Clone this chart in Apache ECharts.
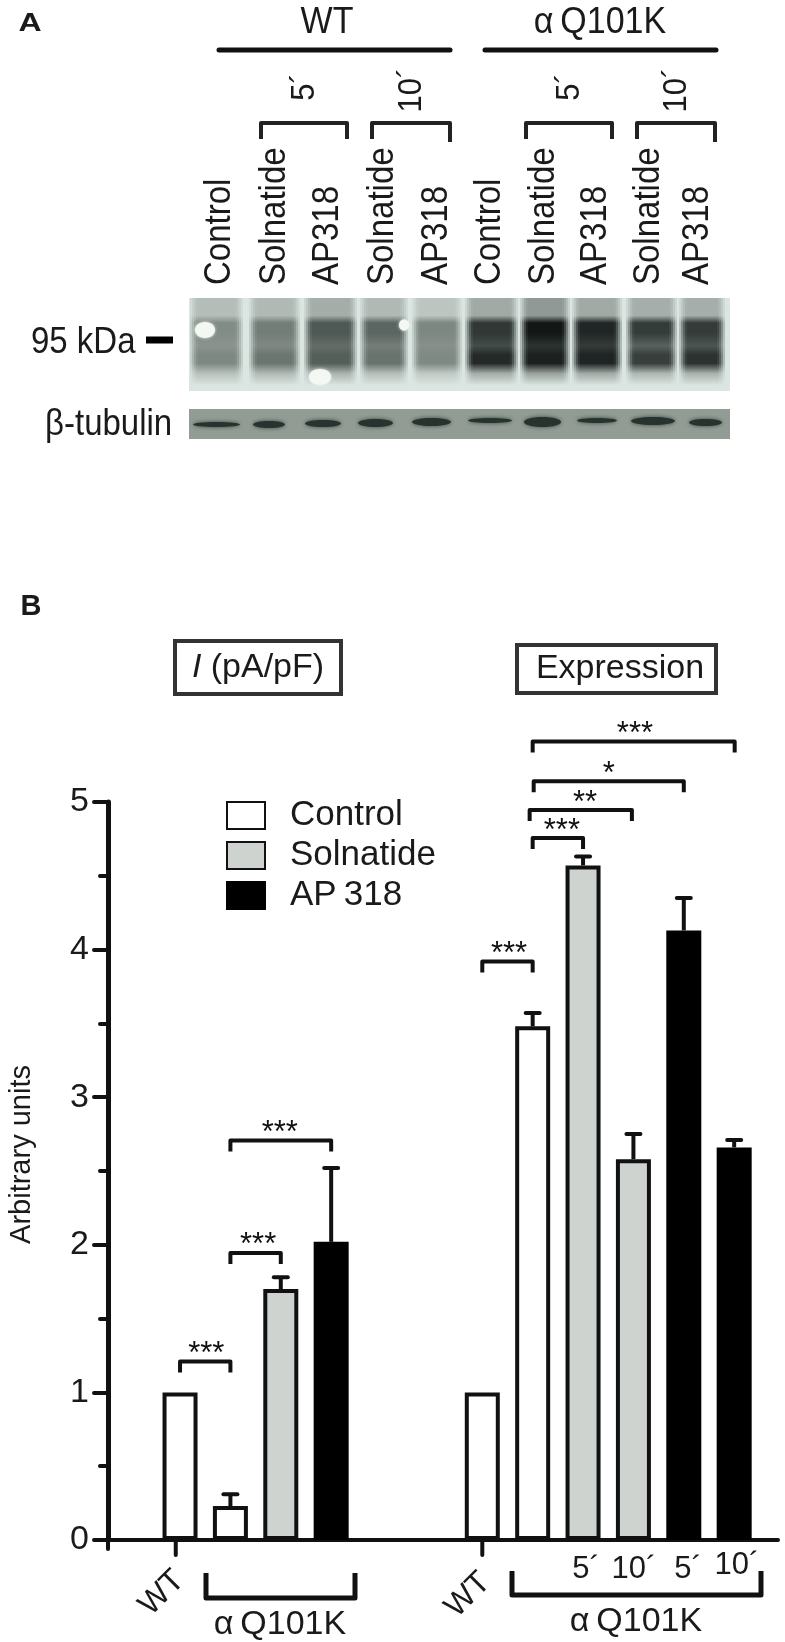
<!DOCTYPE html>
<html><head><meta charset="utf-8">
<style>html,body{margin:0;padding:0;background:#fff}#c{width:785px;height:1642px}</style>
<script src="https://cdn.jsdelivr.net/npm/echarts@6/dist/echarts.min.js"></script>
</head><body><div id="c"></div>
<script>
// ---- data ----
const controlBars   = [[0, 1.0], [1, 0.23], [6, 1.0], [7, 3.48]];
const solnatideBars = [[2, 1.70], [8, 4.57], [9, 2.58]];
const ap318Bars     = [[3, 2.02], [10, 4.13], [11, 2.66]];
// position, bar value, top of error bar
const errorBars = [[1, 0.23, 0.31], [2, 1.70, 1.78], [3, 2.02, 2.52], [7, 3.48, 3.57], [8, 4.57, 4.63], [9, 2.58, 2.75], [10, 4.13, 4.35], [11, 2.66, 2.71]];
// from, to, height, star centre, stars
const brackets = [
  [0, 1, 1.21, 0.52, '***'], [1, 2, 1.945, 1.55, '***'], [1, 3, 2.706, 1.98, '***'],
  [6, 7, 3.92, 6.53, '***'], [7, 8, 4.756, 7.58, '***'], [6.94, 8.97, 4.945, 8.04, '**'],
  [7.02, 10, 5.14, 8.51, '*'], [7, 11.01, 5.41, 9.03, '***']
];
const xTickMarks = [[-1.43, 9], [-0.085, 15], [6, 15]];
const yTickLabelsInterval = 1;
// western blot lanes: x range, grey above band, top band, middle, low band, fade
const upperLanes = [
  [195,238,'#b4bdb8','#828c86','#8a938e','#7e8882','#b7c0bb'],
  [254,295,'#b0b9b4','#737d77','#7f8883','#6b756f','#b0b9b4'],
  [309,352,'#a4ada8','#4d5753','#636c67','#545e59','#aab3ae'],
  [365,403,'#b0b9b4','#5a6460','#747d78','#68726d','#b4bdb8'],
  [417,457,'#bcc5c0','#7d8782','#868f8a','#7f8984','#c0c9c4'],
  [470,513,'#a0a9a4','#2f3634','#434b48','#222826','#a3aca7'],
  [525,565,'#8f9894','#111514','#2a3230','#1a1f1e','#98a19c'],
  [577,617,'#a0a9a4','#1f2524','#323a38','#1d2322','#a0a9a4'],
  [631,672,'#a5aeaa','#333b38','#58615d','#363d3b','#adb6b1'],
  [684,720,'#a5aeaa','#333a38','#4c5451','#2a312f','#a8b1ac']
];
// x from, x to, y from, y to
const tubulinBands = [
  [193,240,422,427],[253,285,421,428],[305,341,420,427],[358,393,419,427],[412,451,418,426],
  [468,512,418,423],[524,561,417,427],[577,617,418,423],[631,675,417,425],[689,722,419,426]
];
const topLabels = [['Control',220],['Solnatide',275],['AP318',328],['Solnatide',383],['AP318',437],['Control',490],['Solnatide',544],['AP318',596],['Solnatide',649],['AP318',698]];

// ---- helpers ----
const FONT = '"Liberation Sans", Arial, sans-serif';
const g = [];
function line(pts, w, color, cap) {
  g.push({type:'polyline', silent:true, z:5, shape:{points:pts}, style:{stroke:color||'#111', lineWidth:w, fill:null, lineCap:cap||'round', lineJoin:'round'}});
}
function text(t, x, y, size, opt) {
  opt = opt||{};
  g.push({type:'text', silent:true, z:6, x:x, y:y, rotation:opt.rot||0, scaleY:opt.sy||1,
    style:{text:t, fill:'#1a1a1a', font:(opt.style||'')+' '+size+'px '+FONT, align:opt.align||'center', verticalAlign:'middle'}});
}
function vgrad(stops){return {type:'linear',x:0,y:0,x2:0,y2:1,colorStops:stops};}
const BLOT_BG = '#dbe5e1';

// ---- panel A ----
text('A', 30, 24, 32, {style:'bold', sy:0.8});
text('WT', 327, 23, 34, {sy:1.08});
text('\u03b1\u2009Q101K', 600, 23, 34, {sy:1.08});
line([[219,50],[450,50]], 5);
line([[485,50],[716,50]], 5);
[[261,347,123,139,139],[372,450,123,139,142],[526,612,123,139,139],[637,715,123,139,142]].forEach(b=>{
  line([[b[0],b[3]],[b[0],b[2]],[b[1],b[2]],[b[1],b[4]]], 4, '#222', 'butt');
});
[['5\u00b4',305,87],['10\u00b4',412,90],['5\u00b4',570,87],['10\u00b4',677,90]].forEach(t=>text(t[0],t[1],t[2],31,{rot:Math.PI/2,sy:1.1}));
topLabels.forEach(t=>text(t[0],t[1],285,33,{rot:Math.PI/2,align:'left',sy:1.12}));
text('95 kDa', 31, 343, 33, {align:'left',sy:1.12});
line([[146,340],[173,340]], 7, '#000', 'butt');
text('\u03b2-tubulin', 45, 425, 33, {align:'left',sy:1.12});

// upper blot
g.push({type:'rect', silent:true, z:1, shape:{x:189,y:298,width:541,height:93}, style:{fill:BLOT_BG}});
upperLanes.forEach(l=>{
  [[5,0.25],[3,0.35],[1,0.5],[-1,0.7],[-3,0.9]].forEach(s=>{
    g.push({type:'rect', silent:true, z:2, shape:{x:l[0]-s[0],y:298,width:l[1]-l[0]+2*s[0],height:92},
      style:{opacity:s[1], fill:vgrad([
        {offset:0,color:l[2]},{offset:0.19,color:l[2]},{offset:0.27,color:l[3]},{offset:0.38,color:l[3]},
        {offset:0.52,color:l[4]},{offset:0.62,color:l[5]},{offset:0.71,color:l[5]},{offset:0.82,color:l[6]},{offset:0.95,color:BLOT_BG},{offset:1,color:BLOT_BG}])}});
  });
});
// artefacts in the film
[[205,330,10,8],[320,377,11,8],[404,325,5,5.5]].forEach(e=>{
  g.push({type:'ellipse', silent:true, z:3, shape:{cx:e[0],cy:e[1],rx:e[2],ry:e[3]}, style:{fill:'#f4f8f2',shadowBlur:3,shadowColor:'#f4f8f2'}});
});
// lower blot
g.push({type:'rect', silent:true, z:1, shape:{x:189,y:409,width:541,height:30}, style:{fill:'#929c95'}});
tubulinBands.forEach(b=>{
  g.push({type:'ellipse', silent:true, z:2, shape:{cx:(b[0]+b[1])/2,cy:(b[2]+b[3])/2,rx:(b[1]-b[0])/2,ry:(b[3]-b[2])/2},
    style:{fill:'#27332f',shadowBlur:4,shadowColor:'#39463f'}});
});

// ---- panel B frame ----
text('B', 31, 607, 29, {style:'bold'});
g.push({type:'rect', silent:true, z:4, shape:{x:175,y:641,width:166,height:53}, style:{fill:'#fff',stroke:'#333',lineWidth:4}});
g.push({type:'text', silent:true, z:6, x:258, y:668, style:{
  text:'{i|I} (pA/pF)', font:'34px '+FONT, fill:'#1a1a1a', align:'center', verticalAlign:'middle',
  rich:{i:{font:'italic 34px '+FONT, fill:'#1a1a1a'}}}});
g.push({type:'rect', silent:true, z:4, shape:{x:517,y:645,width:199,height:48}, style:{fill:'#fff',stroke:'#333',lineWidth:4}});
text('Expression', 620, 669, 34);

// below the axis
text('WT', 162, 1593, 32, {rot:Math.PI/4});
text('WT', 468, 1595, 32, {rot:Math.PI/4});
line([[206,1573],[206,1598],[355,1598],[355,1573]], 5, '#111', 'butt');
line([[512,1571],[512,1595],[761,1595],[761,1571]], 5, '#111', 'butt');
text('\u03b1\u2009Q101K', 280, 1625, 34);
text('\u03b1\u2009Q101K', 636, 1622, 34);
[['5\u00b4',586,1569],['10\u00b4',634,1569],['5\u00b4',688,1569],['10\u00b4',737,1565]].forEach(t=>text(t[0],t[1],t[2],31));

const barBase = {type:'bar', barWidth:35, barGap:'-100%', z:3, animation:false};

const chart = echarts.init(document.getElementById('c'), null, {renderer:'canvas'});
chart.setOption({
  animation:false,
  backgroundColor:'#fff',
  textStyle:{fontFamily:FONT},
  grid:{left:108, right:7, top:802, bottom:102, containLabel:false, outerBoundsMode:'none'},
  legend:{
    left:226, top:798, padding:0, orient:'vertical', align:'left', itemWidth:38, itemHeight:27, itemGap:5,
    icon:'rect', selectedMode:false,
    data:['Control','Solnatide','AP\u2009318'],
    textStyle:{fontSize:35, color:'#1a1a1a', fontFamily:FONT, padding:[0,0,0,20]}
  },
  xAxis:{type:'value', min:-1.43, max:11.87, show:true, splitLine:{show:false},
    axisLine:{show:true, onZero:false, lineStyle:{color:'#111', width:4, cap:'round'}},
    axisTick:{show:false}, axisLabel:{show:false}},
  yAxis:{type:'value', min:0, max:5, interval:yTickLabelsInterval, splitLine:{show:false},
    name:'Arbitrary units', nameLocation:'middle', nameGap:72, nameRotate:90,
    nameTextStyle:{fontSize:29, color:'#1a1a1a', padding:[0,0,0,33]},
    axisLine:{show:true, onZero:false, lineStyle:{color:'#111', width:5, cap:'round'}},
    axisTick:{show:true, length:14, lineStyle:{color:'#111', width:4, cap:'round'}},
    minorTick:{show:true, splitNumber:2, length:8, lineStyle:{color:'#111', width:4, cap:'round'}},
    axisLabel:{fontSize:34, color:'#1a1a1a', margin:19, fontFamily:FONT}},
  graphic:{elements:g},
  series:[
    Object.assign({}, barBase, {name:'Control', data:controlBars, itemStyle:{color:'#fff', borderColor:'#111', borderWidth:4}}),
    Object.assign({}, barBase, {name:'Solnatide', data:solnatideBars, itemStyle:{color:'#ced3cf', borderColor:'#111', borderWidth:4}}),
    Object.assign({}, barBase, {name:'AP\u2009318', data:ap318Bars, itemStyle:{color:'#000', borderColor:'#000', borderWidth:4}}),
    {type:'custom', name:'err', z:2, data:errorBars, clip:false, silent:true, encode:{x:0,y:2},
      renderItem:(p,api)=>{
        const a=api.coord([api.value(0),api.value(1)]), b=api.coord([api.value(0),api.value(2)]);
        return {type:'group',children:[
          {type:'line',shape:{x1:a[0],y1:a[1],x2:b[0],y2:b[1]},style:{stroke:'#111',lineWidth:4}},
          {type:'line',shape:{x1:b[0]-7,y1:b[1],x2:b[0]+7,y2:b[1]},style:{stroke:'#111',lineWidth:4,lineCap:'round'}}
        ]};
      }},
    {type:'custom', name:'sig', z:4, data:brackets.map(b=>b.slice(0,4)), clip:false, silent:true, encode:{x:0,y:2},
      renderItem:(p,api)=>{
        const a=api.coord([api.value(0),api.value(2)]), b=api.coord([api.value(1),api.value(2)]);
        const c=api.coord([api.value(3),api.value(2)]);
        return {type:'group',children:[
          {type:'polyline',shape:{points:[[a[0],a[1]+11],[a[0],a[1]],[b[0],b[1]],[b[0],b[1]+11]]},
            style:{stroke:'#111',lineWidth:4,fill:null,lineJoin:'round'}},
          {type:'text',x:c[0],y:c[1]-7,style:{text:brackets[p.dataIndex][4],font:'31px '+FONT,fill:'#111',align:'center',verticalAlign:'middle'}}
        ]};
      }},
    {type:'custom', name:'xticks', z:2, data:xTickMarks, clip:false, silent:true, encode:{x:0},
      renderItem:(p,api)=>{
        const a=api.coord([api.value(0),0]);
        return {type:'line',shape:{x1:a[0],y1:a[1],x2:a[0],y2:a[1]+api.value(1)},style:{stroke:'#111',lineWidth:4,lineCap:'round'}};
      }}
  ]
});
</script></body></html>
